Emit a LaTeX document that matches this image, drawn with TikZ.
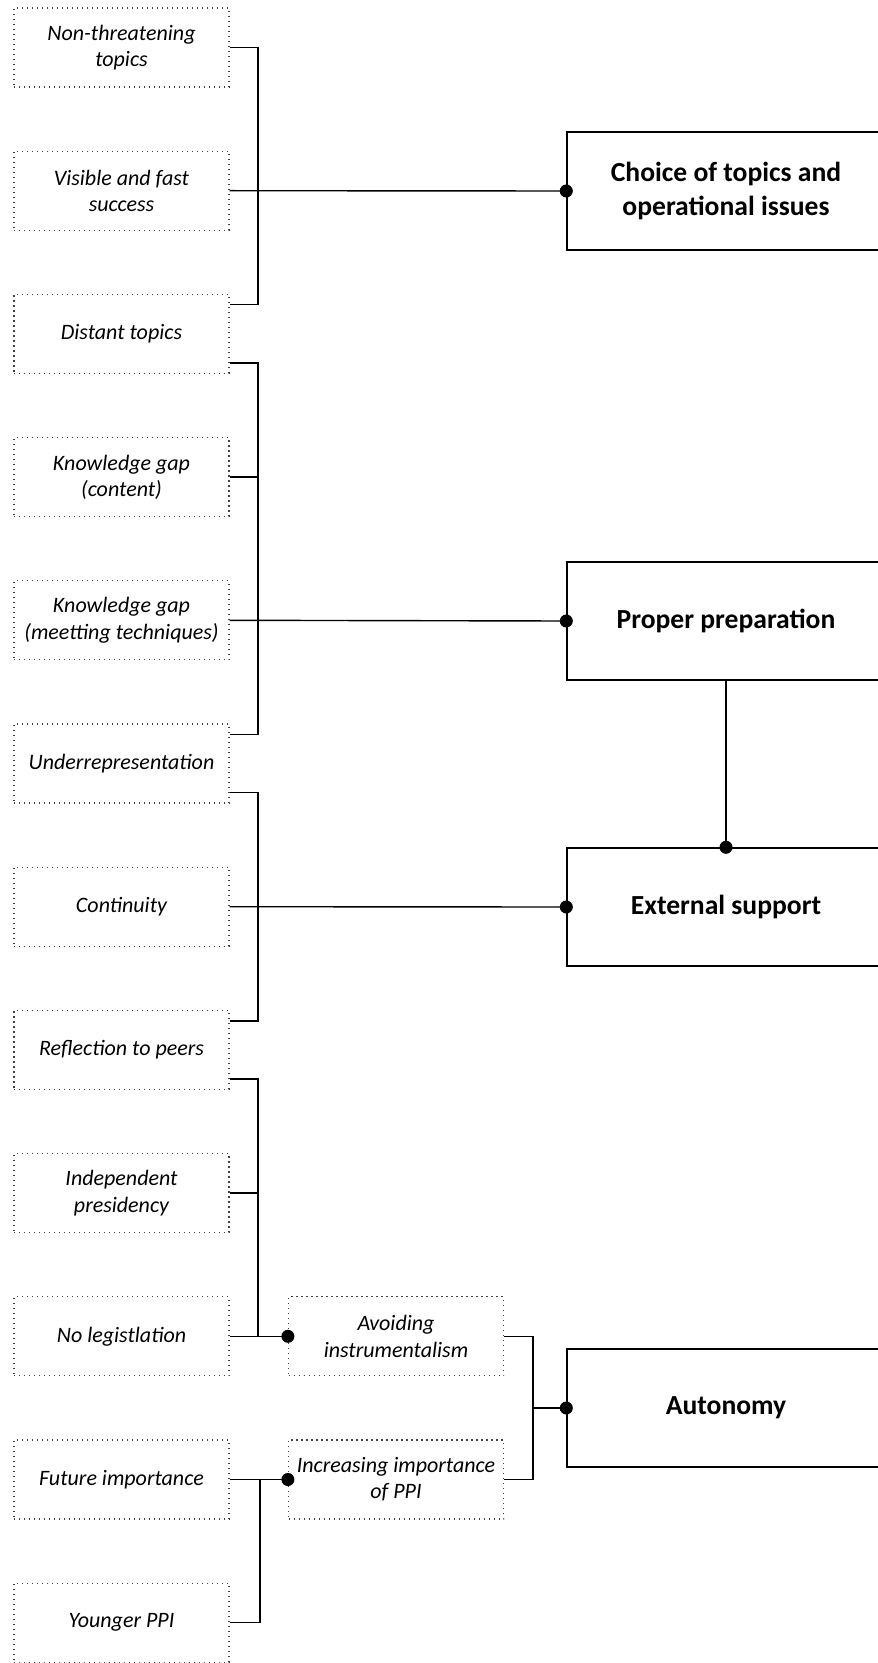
\documentclass[tikz,border=0pt]{standalone}
\usepackage{fontspec}
\setmainfont{Carlito}
\usepackage{tikz}
\usetikzlibrary{arrows.meta}

\begin{document}
\begin{tikzpicture}[x=0.5pt,y=-0.5pt]

\tikzstyle{factor}=[rectangle,draw=black!75,line width=0.6pt,dash pattern=on 0.6pt off 1.9pt,minimum width=107.5pt,minimum height=39.5pt,align=center,font=\fontsize{11}{13.2}\selectfont\itshape,inner sep=0pt]
\tikzstyle{theme}=[rectangle,draw=black,line width=0.7pt,minimum width=159pt,minimum height=59pt,align=center,font=\fontsize{13.8}{16.8}\selectfont\bfseries,inner sep=0pt]
\tikzstyle{wire}=[draw=black,line width=0.7pt]
\tikzstyle{link}=[wire,-{Circle[length=6.5pt,width=6.5pt]},shorten >=-3.25pt]

\useasboundingbox (0,0) rectangle (877,1663);

% left column
\node[factor] (nonthreat) at (121.5,47.5) {Non-threatening\\topics};
\node[factor] (visible) at (121.5,190.7) {Visible and fast\\success};
\node[factor] (distant) at (121.5,333.9) {Distant topics};
\node[factor] (gapcont) at (121.5,477.1) {Knowledge gap\\(content)};
\node[factor] (gapmeet) at (121.5,620.3) {Knowledge gap\\(meetting techniques)};
\node[factor] (underrep) at (121.5,763.5) {Underrepresentation};
\node[factor] (contin) at (121.5,906.7) {Continuity};
\node[factor] (reflect) at (121.5,1049.9) {Reflection to peers};
\node[factor] (presid) at (121.5,1193.1) {Independent\\presidency};
\node[factor] (nolegis) at (121.5,1336.3) {No legistlation};
\node[factor] (future) at (121.5,1479.5) {Future importance};
\node[factor] (younger) at (121.5,1622.7) {Younger PPI};

% middle column
\node[factor] (avoid) at (396,1336.3) {Avoiding\\instrumentalism};
\node[factor] (increase) at (396,1479.5) {Increasing importance\\of PPI};

% right column
\node[theme] (choice) at (726,191) {Choice of topics and\\operational issues};
\node[theme] (prep) at (726,621) {Proper preparation};
\node[theme] (extern) at (726,907) {External support};
\node[theme] (auton) at (726,1408) {Autonomy};

\coordinate (j1) at (258,190.7);
\coordinate (j2) at (258,620.3);
\coordinate (j3) at (258,906.7);
\coordinate (j4) at (258,1336.3);
\coordinate (j5) at (260,1479.5);
\coordinate (j6) at (533,1408);

\draw[wire] (nonthreat.east) -| (j1) |- ([yshift=-5.5pt]distant.north east);
\draw[link] (visible.east) -- (choice.west);

\draw[wire] ([yshift=5.5pt]distant.south east) -| (j2) |- ([yshift=-5.5pt]underrep.north east);
\draw[wire] (gapcont.east) -- (gapcont.east -| j2);
\draw[link] (gapmeet.east) -- (prep.west);

\draw[wire] ([yshift=5.5pt]underrep.south east) -| (j3) |- ([yshift=-5.5pt]reflect.north east);
\draw[link] (contin.east) -- (extern.west);
\draw[link] (prep.south) -- (extern.north);

\draw[wire] ([yshift=5.5pt]reflect.south east) -| (j4);
\draw[wire] (presid.east) -- (presid.east -| j4);
\draw[link] (nolegis.east) -- (avoid.west);

\draw[link] (future.east) -- (increase.west);
\draw[wire] (younger.east) -| (j5);

\draw[wire] (avoid.east) -| (j6) |- (increase.east);
\draw[link] (j6) -- (auton.west);
\end{tikzpicture}
\end{document}
